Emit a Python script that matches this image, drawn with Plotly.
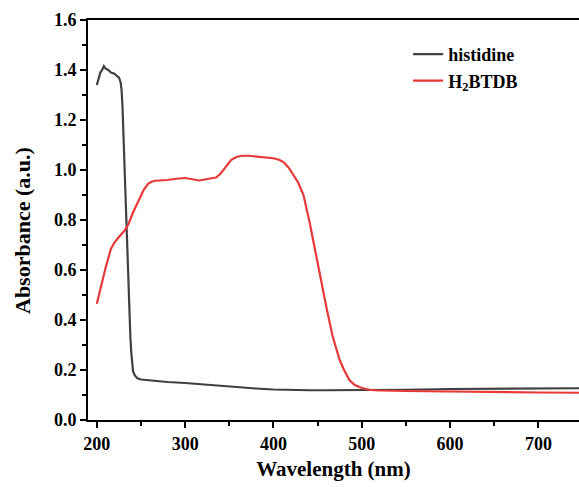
import plotly.graph_objects as go

# histidine
his_x = [200, 202, 204, 206, 208, 210, 213, 216, 220, 223, 225, 227, 228, 229, 230, 231, 232, 233, 234, 235, 236, 237, 238, 239, 240, 241, 243, 246, 250, 260, 270, 280, 300, 320, 340, 360, 380, 400, 420, 440, 460, 480, 500, 550, 600, 650, 700, 746]
his_y = [1.34, 1.37, 1.39, 1.40, 1.415, 1.405, 1.40, 1.39, 1.385, 1.375, 1.37, 1.35, 1.32, 1.26, 1.15, 1.02, 0.90, 0.80, 0.70, 0.60, 0.50, 0.41, 0.33, 0.27, 0.22, 0.195, 0.178, 0.167, 0.162, 0.158, 0.155, 0.152, 0.148, 0.142, 0.136, 0.131, 0.126, 0.122, 0.119, 0.119, 0.119, 0.119, 0.119, 0.121, 0.124, 0.125, 0.126, 0.127]

# H2BTDB
btdb_x = [200, 205, 210, 216, 220, 224, 228, 232, 236, 241, 247, 253, 258, 262, 266, 272, 280, 290, 300, 310, 316, 322, 330, 335, 340, 346, 352, 358, 364, 372, 380, 390, 400, 407, 412, 417, 422, 428, 434, 441, 448, 454, 460, 467, 475, 480, 486, 492, 501, 510, 520, 550, 600, 650, 700, 746]
btdb_y = [0.465, 0.54, 0.61, 0.685, 0.71, 0.728, 0.745, 0.76, 0.785, 0.83, 0.875, 0.92, 0.945, 0.953, 0.957, 0.958, 0.96, 0.965, 0.968, 0.962, 0.958, 0.962, 0.968, 0.97, 0.985, 1.015, 1.04, 1.052, 1.057, 1.057, 1.055, 1.052, 1.047, 1.04, 1.03, 1.01, 0.985, 0.95, 0.9, 0.79, 0.665, 0.55, 0.45, 0.335, 0.24, 0.2, 0.16, 0.14, 0.127, 0.12, 0.118, 0.116, 0.113, 0.111, 0.11, 0.109]

x_ticks = [200, 300, 400, 500, 600, 700]
y_ticks = [0, 0.2, 0.4, 0.6, 0.8, 1.0, 1.2, 1.4, 1.6]

names = ["histidine", "H<sub>2</sub>BTDB"]
colors = ["#404040", "#e8393a"]

fig = go.Figure()
fig.add_trace(go.Scatter(x=his_x, y=his_y, mode="lines", name=names[0],
                         line=dict(color=colors[0], width=2.2)))
fig.add_trace(go.Scatter(x=btdb_x, y=btdb_y, mode="lines", name=names[1],
                         line=dict(color=colors[1], width=2.2)))

ff = "Liberation Serif"
tickfont = dict(size=18, family=ff, weight="bold", color="black")
minor_common = dict(ticks="outside", ticklen=4, tickwidth=2, tickcolor="black")

fig.update_layout(
    width=579, height=487,
    margin=dict(l=88, r=0, t=20, b=67),
    paper_bgcolor="white", plot_bgcolor="white",
    font=dict(family=ff, size=17, color="black"),
    showlegend=True,
    legend=dict(x=0.652, y=0.96, xanchor="left", yanchor="top",
                bgcolor="rgba(0,0,0,0)",
                font=dict(size=18, family=ff, color="black", weight="bold"),
                tracegroupgap=0),
    xaxis=dict(range=[190, 746], tickmode="array", tickvals=x_ticks,
               ticktext=["<b>%d</b>" % v for v in x_ticks],
               showgrid=False, zeroline=False, showline=True, linecolor="black", linewidth=2,
               mirror=True, ticks="outside", ticklen=6, tickwidth=2, tickcolor="black",
               minor=dict(tickvals=[250, 350, 450, 550, 650], **minor_common),
               tickfont=tickfont,
               title=dict(text="Wavelength (nm)", font=dict(size=21, family=ff, weight="bold"), standoff=9)),
    yaxis=dict(range=[0, 1.6], tickmode="array", tickvals=y_ticks,
               ticktext=["<b>%.1f</b>" % v for v in y_ticks],
               showgrid=False, zeroline=False, showline=True, linecolor="black", linewidth=2,
               mirror=False, ticks="outside", ticklen=6, tickwidth=2, tickcolor="black",
               minor=dict(tickvals=[0.1, 0.3, 0.5, 0.7, 0.9, 1.1, 1.3, 1.5], **minor_common),
               tickfont=tickfont),
    annotations=[dict(text="<b>Absorbance (a.u.)</b>", xref="paper", yref="paper",
                      x=(22 - 88) / 491, y=(420 - 231) / 400, xanchor="center", yanchor="middle",
                      textangle=-90, showarrow=False,
                      font=dict(size=22, family=ff, color="black"))],
)

fig.write_html("out.html")
